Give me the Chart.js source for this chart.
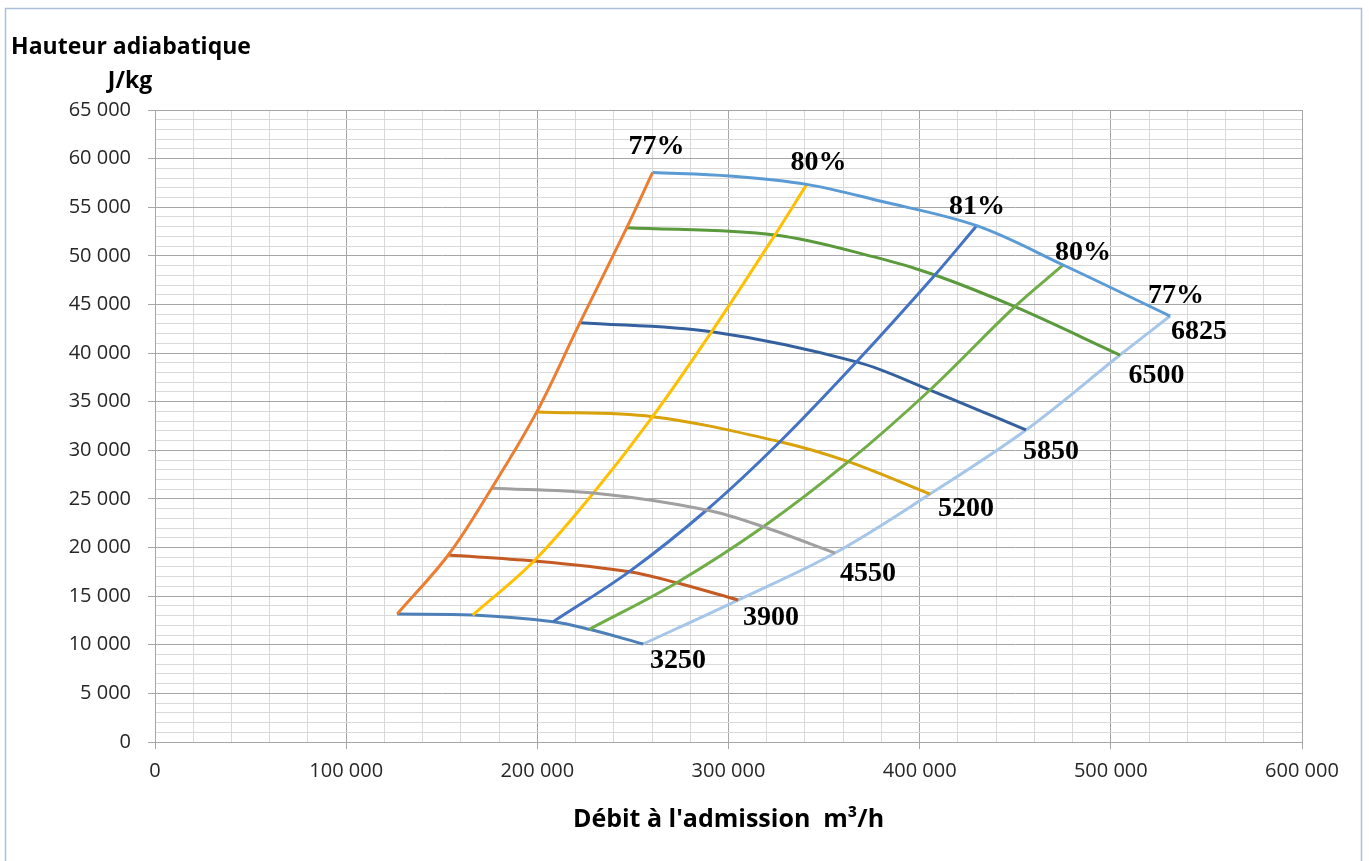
<!DOCTYPE html>
<html lang="fr">
<head>
    <meta charset="UTF-8">
    <title>Hauteur adiabatique / Débit</title>
    <style>
        body {
            margin: 0;
            background: #ffffff;
        }
        canvas {
            display: block;
        }
    </style>
    <script src="https://cdn.jsdelivr.net/npm/chart.js"></script>
</head>
<body>

    <canvas id="compChart" width="1369" height="861"></canvas>

    <script>
        // Lignes de vitesse (tr/min) : [débit m3/h, hauteur J/kg]
        var n3250 = [[126700, 13160], [166200, 13060], [208300, 12370], [227200, 11590], [255400, 10080]];
        var n3900 = [[153400, 19230], [198300, 18620], [248100, 17520], [272900, 16380], [305000, 14600]];
        var n4550 = [[176100, 26100], [229300, 25600], [288600, 23860], [318200, 22140], [355700, 19440]];
        var n5200 = [[199700, 33950], [260300, 33460], [326900, 30880], [362700, 28830], [405400, 25500]];
        var n5850 = [[222300, 43130], [291200, 42200], [367000, 39100], [405400, 36200], [455600, 32090]];
        var n6500 = [[246800, 52900], [324300, 52150], [379200, 49740], [408000, 48030], [449800, 44770], [504800, 39800]];
        var n6825 = [[260300, 58580], [300800, 58210], [340900, 57350], [379200, 55640], [429800, 53100], [475100, 49060], [531000, 43810]];

        // Lignes d'iso-rendement
        var eta77a = [[126700, 13160], [153400, 19230], [176100, 26100], [199700, 33950], [222300, 43130], [246800, 52900], [260300, 58580]];
        var eta80a = [[166200, 13060], [198300, 18620], [229300, 25600], [260300, 33460], [291200, 42200], [324300, 52150], [340900, 57350]];
        var eta81 = [[208300, 12370], [248100, 17520], [288600, 23860], [326900, 30880], [367000, 39100], [408000, 48030], [429800, 53100]];
        var eta80b = [[227200, 11590], [272900, 16380], [318200, 22140], [362700, 28830], [405400, 36200], [449800, 44770], [475100, 49060]];
        var eta77b = [[255400, 10080], [305000, 14600], [355700, 19440], [405400, 25500], [455600, 32090], [504800, 39800], [531000, 43810]];

        // Etiquettes sur le graphique
        var labelText = ['77%', '80%', '81%', '80%', '77%', '6825', '6500', '5850', '5200', '4550', '3900', '3250'];
        var labelX = [262300, 347100, 430000, 485400, 534100, 546100, 523900, 468700, 424200, 373000, 322200, 273600];
        var labelY = [61190, 59600, 55020, 50300, 45870, 42170, 37640, 29830, 23960, 17280, 12800, 8330];

        var majorGrid = '#a6a6a6';
        var minorGrid = '#d9d9d9';

        function fmt(v) {
            return String(v).replace(/\B(?=(\d{3})+(?!\d))/g, ' ');
        }

        function toPts(arr) {
            return arr.map(function (p) { return { x: p[0], y: p[1] }; });
        }

        function serie(arr, color) {
            return {
                data: toPts(arr),
                showLine: true,
                borderColor: color,
                borderWidth: 3,
                pointRadius: 0,
                tension: 0.35,
                fill: false
            };
        }

        // cadre, titre de l'axe Y et etiquettes des courbes
        var annotPlugin = {
            id: 'annot',
            beforeDraw: function (chart) {
                var ctx = chart.ctx;
                ctx.save();
                ctx.fillStyle = '#ffffff';
                ctx.fillRect(0, 0, chart.width, chart.height);
                ctx.strokeStyle = '#a9bfdc';
                ctx.lineWidth = 1.5;
                ctx.strokeRect(5.5, 8.5, 1356, 900);
                ctx.restore();
            },
            afterDraw: function (chart) {
                var ctx = chart.ctx;
                var xs = chart.scales.x;
                var ys = chart.scales.y;
                ctx.save();
                ctx.fillStyle = '#000000';
                ctx.textAlign = 'center';
                ctx.textBaseline = 'alphabetic';
                ctx.font = 'bold 23px "Open Sans"';
                ctx.fillText('Hauteur adiabatique', 131, 54);
                ctx.fillText('J/kg', 130, 88);

                ctx.font = 'bold 28px "Liberation Serif"';
                ctx.textBaseline = 'middle';
                for (var i = 0; i < labelText.length; i++) {
                    ctx.fillText(labelText[i], xs.getPixelForValue(labelX[i]), ys.getPixelForValue(labelY[i]));
                }
                ctx.restore();
            }
        };

        var ctx = document.getElementById('compChart').getContext('2d');
        var chart = new Chart(ctx, {
            type: 'scatter',
            data: {
                datasets: [
                    serie(n6825, '#5b9bd5'),
                    serie(eta77a, '#ed7d31'),
                    serie(n4550, '#a0a0a0'),
                    serie(eta80a, '#ffc000'),
                    serie(eta81, '#4472c4'),
                    serie(eta80b, '#70ad47'),
                    serie(n5850, '#35609e'),
                    serie(n3900, '#c55a22'),
                    serie(n5200, '#d9a20a'),
                    serie(n6500, '#5a9a3c'),
                    serie(n3250, '#4e80b8'),
                    serie(eta77b, '#a6c6e9')
                ]
            },
            options: {
                responsive: false,
                animation: false,
                layout: {
                    padding: { left: 0, top: 110, right: 67, bottom: 0 }
                },
                plugins: {
                    legend: { display: false },
                    tooltip: { enabled: false }
                },
                scales: {
                    x: {
                        type: 'linear',
                        min: 0,
                        max: 600000,
                        afterFit: function (scale) { scale.height = 119; },
                        border: { color: majorGrid, width: 1 },
                        grid: {
                            color: function (c) { return c.tick && c.tick.value % 100000 === 0 ? majorGrid : minorGrid; },
                            tickColor: function (c) { return c.tick && c.tick.value % 100000 === 0 ? majorGrid : 'rgba(0,0,0,0)'; },
                            tickLength: 7,
                            lineWidth: 1
                        },
                        ticks: {
                            stepSize: 20000,
                            autoSkip: false,
                            maxRotation: 0,
                            padding: 10,
                            color: '#262626',
                            font: { family: 'Open Sans', size: 20 },
                            callback: function (v) { return v % 100000 === 0 ? fmt(v) : ''; }
                        },
                        title: {
                            display: true,
                            text: 'Débit à l\'admission  m³/h',
                            color: '#000000',
                            font: { family: 'Open Sans', size: 25, weight: 'bold' },
                            padding: { top: 0, bottom: 26 }
                        }
                    },
                    y: {
                        type: 'linear',
                        min: 0,
                        max: 65000,
                        afterFit: function (scale) { scale.width = 155; },
                        border: { color: majorGrid, width: 1 },
                        grid: {
                            color: function (c) { return c.tick && c.tick.value % 5000 === 0 ? majorGrid : minorGrid; },
                            tickColor: function (c) { return c.tick && c.tick.value % 5000 === 0 ? majorGrid : 'rgba(0,0,0,0)'; },
                            tickLength: 7,
                            lineWidth: 1
                        },
                        ticks: {
                            stepSize: 1000,
                            autoSkip: false,
                            padding: 17,
                            color: '#262626',
                            font: { family: 'Open Sans', size: 20 },
                            callback: function (v) { return v % 5000 === 0 ? fmt(v) : ''; }
                        }
                    }
                }
            },
            plugins: [annotPlugin]
        });
    </script>

</body>
</html>
